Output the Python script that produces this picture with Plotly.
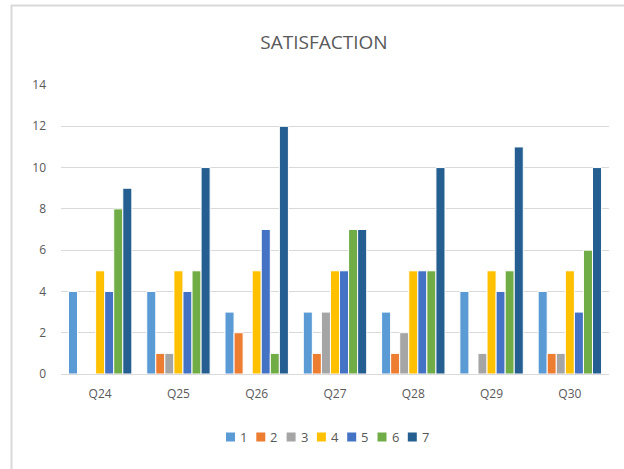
import plotly.graph_objects as go

categories = ["Q24", "Q25", "Q26", "Q27", "Q28", "Q29", "Q30"]
series_names = ["1", "2", "3", "4", "5", "6", "7"]
s1 = [4, 4, 3, 3, 3, 4, 4]
s2 = [0, 1, 2, 1, 1, 0, 1]
s3 = [0, 1, 0, 3, 2, 1, 1]
s4 = [5, 5, 5, 5, 5, 5, 5]
s5 = [4, 4, 7, 5, 5, 4, 3]
s6 = [8, 5, 1, 7, 5, 5, 6]
s7 = [9, 10, 12, 7, 10, 11, 10]
colors = ["#5B9BD5", "#ED7D31", "#A5A5A5", "#FFC000", "#4472C4", "#70AD47", "#255E91"]
y_ticks = [0, 2, 4, 6, 8, 10, 12, 14]

W, H = 624, 469
L, R, T, B = 61, 15, 85, 95
pw, ph = W - L - R, H - T - B

fig = go.Figure()
for name, vals, col in zip(series_names, [s1, s2, s3, s4, s5, s6, s7], colors):
    fig.add_trace(go.Bar(
        x=categories, y=vals, name=name, showlegend=False,
        marker=dict(color=col, line=dict(color="white", width=1)),
    ))

def px_x(p):
    return (p - L) / pw

def px_y(p):
    return (H - B - p) / ph

# chart border (top and left edges visible in the crop)
fig.add_shape(type="line", xref="paper", yref="paper",
              x0=px_x(11), x1=px_x(640), y0=px_y(5.5), y1=px_y(5.5),
              line=dict(color="#D9D9D9", width=2), layer="above")
fig.add_shape(type="line", xref="paper", yref="paper",
              x0=px_x(11.5), x1=px_x(11.5), y0=px_y(5), y1=px_y(490),
              line=dict(color="#D9D9D9", width=2), layer="above")

# legend (manual, compact like the reference)
leg_x0, leg_step, leg_y = 226, 30.3, 437
for i, (name, col) in enumerate(zip(series_names, colors)):
    x0 = leg_x0 + i * leg_step
    fig.add_shape(type="rect", xref="paper", yref="paper",
                  x0=px_x(x0), x1=px_x(x0 + 9), y0=px_y(leg_y + 4.5), y1=px_y(leg_y - 4.5),
                  line=dict(width=0), fillcolor=col)
    fig.add_annotation(xref="paper", yref="paper", x=px_x(x0 + 12), y=px_y(leg_y),
                       xanchor="left", yanchor="middle", text=name, showarrow=False,
                       font=dict(size=13, color="#595959"))

fig.update_layout(
    width=W, height=H,
    margin=dict(l=L, r=R, t=T, b=B, autoexpand=False),
    paper_bgcolor="white", plot_bgcolor="white",
    barmode="group", bargap=0.19, bargroupgap=0.0,
    showlegend=False,
    font=dict(family="Open Sans, Calibri, sans-serif", color="#595959", size=12),
    title=dict(text="SATISFACTION", x=324 / W, xanchor="center", y=1 - 42 / H, yanchor="middle",
               yref="container", font=dict(size=19, color="#595959")),
    xaxis=dict(showgrid=False, showline=True, linecolor="#D9D9D9", linewidth=1,
               ticks="", tickfont=dict(size=12, color="#595959"), automargin=False,
               ticklabelstandoff=9),
    yaxis=dict(range=[0, 14], tickvals=y_ticks, showgrid=True, gridcolor="#D9D9D9",
               gridwidth=1, zeroline=False, showline=False, ticks="", automargin=False,
               tickfont=dict(size=12, color="#595959"), ticklabelstandoff=14),
)
fig.write_html("out.html", config={"displayModeBar": False},
               post_script="document.body.style.margin='0px';")
